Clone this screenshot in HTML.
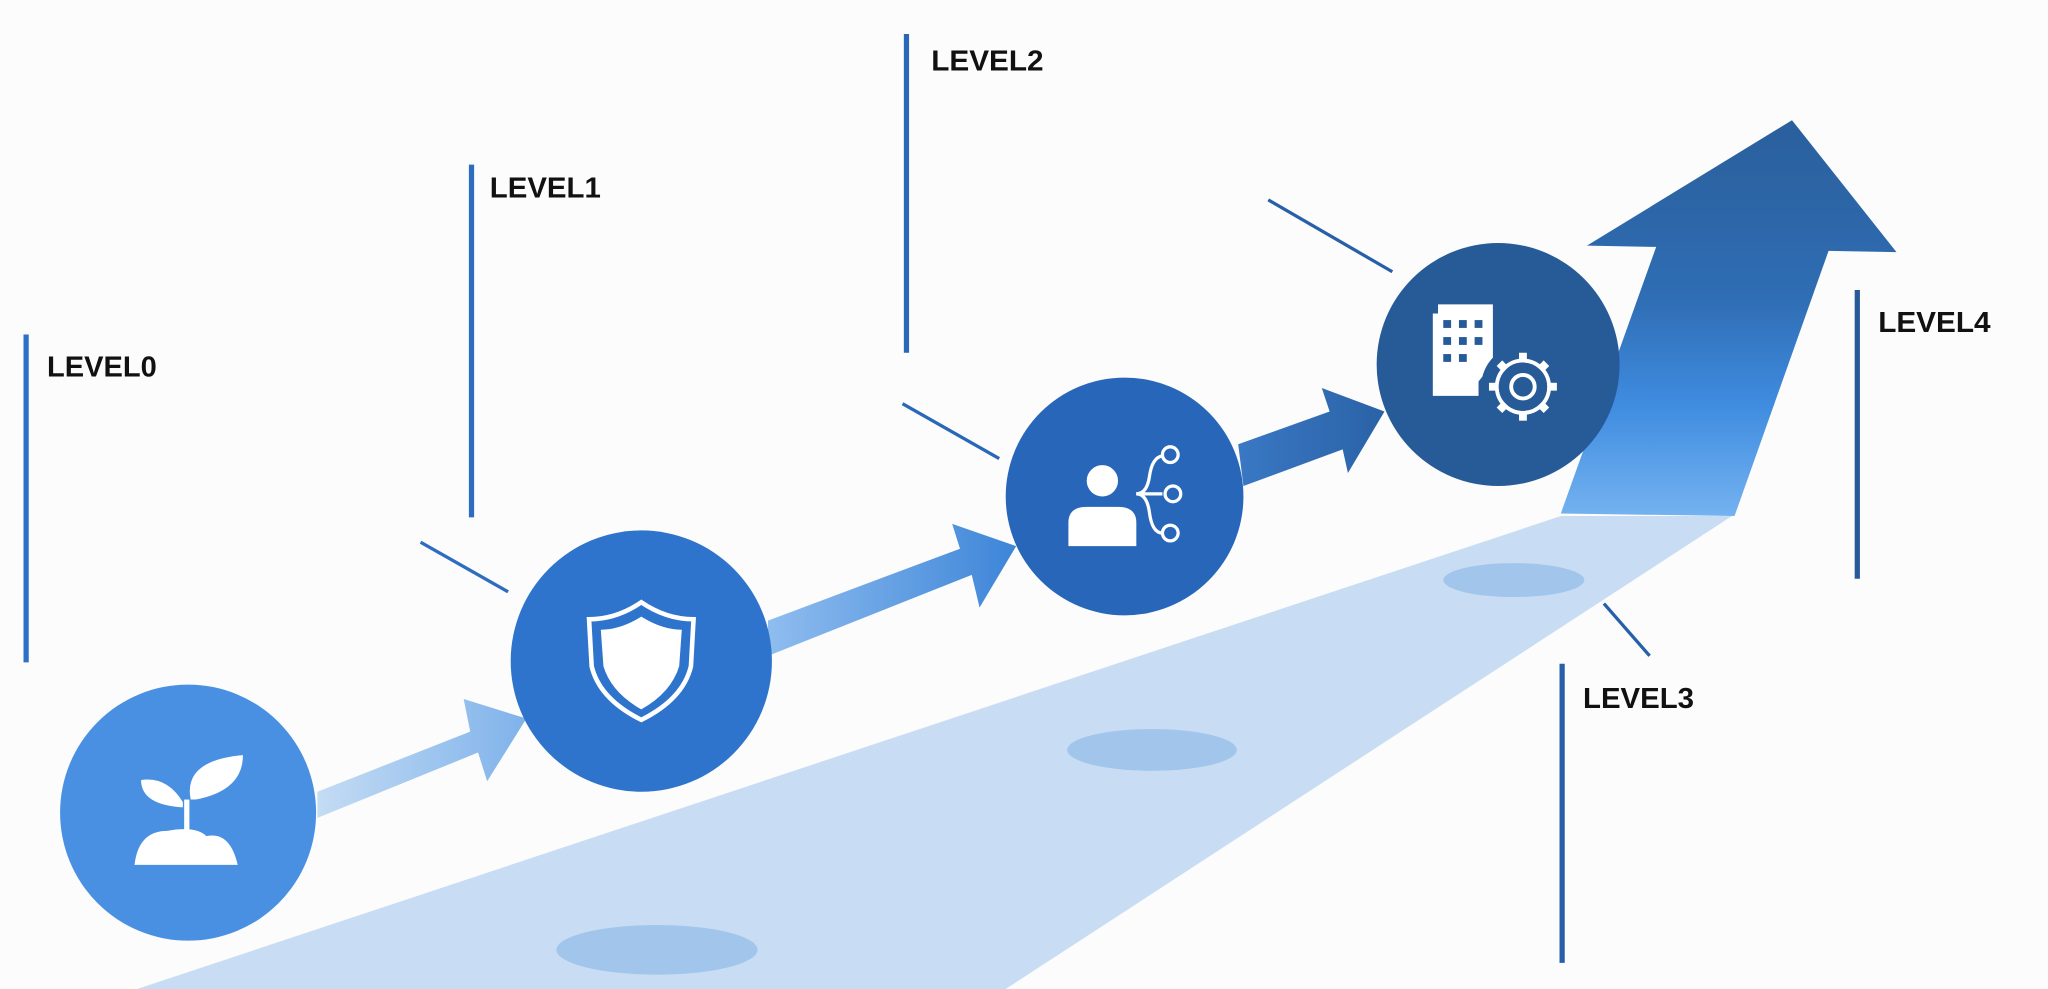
<!DOCTYPE html>
<html><head><meta charset="utf-8"><style>
html,body{margin:0;padding:0;background:#fbfcfb;}
svg{display:block;}
text{font-family:"Liberation Sans",sans-serif;font-weight:bold;font-size:22px;fill:#111;}
</style></head><body>
<svg width="2048" height="989" viewBox="0 0 1568 757" preserveAspectRatio="none" xmlns="http://www.w3.org/2000/svg">
<defs>
<linearGradient id="big" x1="0" y1="0" x2="0" y2="1">
<stop offset="0" stop-color="#2a5f9c"/><stop offset="0.45" stop-color="#2f6db4"/><stop offset="0.72" stop-color="#3f8ce0"/><stop offset="1" stop-color="#74b2f0"/></linearGradient>
<linearGradient id="a0" x1="0" y1="0" x2="1" y2="0"><stop offset="0" stop-color="#c4dcf4"/><stop offset="1" stop-color="#7fb2ea"/></linearGradient>
<linearGradient id="a1" x1="0" y1="0" x2="1" y2="0"><stop offset="0" stop-color="#8fbdef"/><stop offset="1" stop-color="#3d85d8"/></linearGradient>
<linearGradient id="a2" x1="0" y1="0" x2="1" y2="0"><stop offset="0" stop-color="#3a78c4"/><stop offset="1" stop-color="#2a62a6"/></linearGradient>
</defs>
<rect width="1568" height="757" fill="#fbfcfb"/>
<!-- path band -->
<polygon points="105,757 1195,395 1326,395 770,757" fill="#c8ddf3"/>
<ellipse cx="503" cy="727" rx="77" ry="19" fill="#a2c6eb"/>
<ellipse cx="882" cy="574" rx="65" ry="16" fill="#a2c6eb"/>
<ellipse cx="1159" cy="444" rx="54" ry="13" fill="#a2c6eb"/>
<!-- big arrow -->
<polygon points="1195,393 1328,395 1400,192 1452,193 1372,92 1215,188 1268,189" fill="url(#big)"/>
<!-- small arrows -->
<polygon points="243,606 360,560 355,535 403,550 373,598 366,576 243,626" fill="url(#a0)"/>
<polygon points="588,475 735,420 729,401 778,418 750,465 744,440 588,502" fill="url(#a1)"/>
<polygon points="948,340 1018,315 1012,297 1060,315 1032,362 1028,344 952,372" fill="url(#a2)"/>
<!-- vertical lines -->
<g stroke-width="4">
<line x1="20" y1="256" x2="20" y2="507" stroke="#2d70c6"/>
<line x1="361" y1="126" x2="361" y2="396" stroke="#2d6cc0"/>
<line x1="694" y1="26" x2="694" y2="270" stroke="#2a67b8"/>
<line x1="1196" y1="508" x2="1196" y2="737" stroke="#275fa8"/>
<line x1="1422" y1="222" x2="1422" y2="443" stroke="#265a98"/>
</g>
<g stroke-width="2.5">
<line x1="322" y1="415" x2="389" y2="453" stroke="#2d6cc0"/>
<line x1="691" y1="309" x2="765" y2="351" stroke="#2a67b8"/>
<line x1="971" y1="153" x2="1066" y2="208" stroke="#275fa8"/>
<line x1="1228" y1="462" x2="1263" y2="502" stroke="#275fa8"/>
</g>
<!-- circles -->
<circle cx="144" cy="622" r="98" fill="#4a90e2"/>
<circle cx="491" cy="506" r="100" fill="#2e74cc"/>
<circle cx="861" cy="380" r="91" fill="#2766b9"/>
<circle cx="1147" cy="279" r="93" fill="#275b98"/>
<!-- sprout -->
<g fill="#fff">
<path d="M103,662 Q106,636 128,636 Q150,632 158,640 Q176,636 182,662 Z"/>
<rect x="141" y="612" width="4" height="26"/>
<path d="M146,612 Q140,582 186,578 Q186,605 150,612 Z"/>
<path d="M140,618 Q108,616 108,597 Q128,594 140,614 Z"/>
</g>
<!-- shield -->
<g fill="none" stroke="#fff">
<path d="M491,461 Q510,474 531,474 L529,510 Q523,535 491,551 Q459,535 453,510 L451,474 Q472,474 491,461 Z" stroke-width="3.5"/>
<path d="M491,472 Q507,482 522,482 L520,510 Q514,530 491,543 Q468,530 462,510 L460,482 Q475,482 491,472 Z" fill="#fff" stroke-width="0"/>
</g>
<!-- person -->
<g>
<circle cx="844" cy="368" r="12" fill="#fff"/>
<path d="M818,418 L818,400 Q818,388 832,388 L856,388 Q870,388 870,400 L870,418 Z" fill="#fff"/>
<g stroke="#fff" stroke-width="2.5" fill="none">
<path d="M870,378 Q878,378 880,365 Q882,350 890,349"/>
<line x1="870" y1="378" x2="890" y2="378"/>
<path d="M870,378 Q878,378 880,392 Q882,408 890,408"/>
<circle cx="896" cy="348" r="6"/><circle cx="898" cy="378" r="6"/><circle cx="896" cy="408" r="6"/>
</g>
</g>
<!-- building + gear -->
<g>
<path d="M1097,303 L1097,240 L1101,240 L1101,233 L1143,233 L1143,278 L1132,292 L1132,303 Z" fill="#fff"/>
<g fill="#275b98">
<rect x="1105" y="245" width="6" height="6"/><rect x="1117" y="245" width="6" height="6"/><rect x="1129" y="245" width="6" height="6"/>
<rect x="1105" y="258" width="6" height="6"/><rect x="1117" y="258" width="6" height="6"/><rect x="1129" y="258" width="6" height="6"/>
<rect x="1105" y="271" width="6" height="6"/><rect x="1117" y="271" width="6" height="6"/>
</g>
<circle cx="1166" cy="296" r="32" fill="#275b98"/>
<g stroke="#fff" stroke-width="3" fill="none">
<circle cx="1166" cy="296" r="20"/>
<circle cx="1166" cy="296" r="9"/>
<g stroke-width="6">
<line x1="1166" y1="270" x2="1166" y2="277"/><line x1="1166" y1="315" x2="1166" y2="322"/>
<line x1="1140" y1="296" x2="1147" y2="296"/><line x1="1185" y1="296" x2="1192" y2="296"/>
<line x1="1148" y1="278" x2="1153" y2="283"/><line x1="1179" y1="309" x2="1184" y2="314"/>
<line x1="1184" y1="278" x2="1179" y2="283"/><line x1="1153" y1="309" x2="1148" y2="314"/>
</g>
</g>
<circle cx="1166" cy="296" r="17" fill="none" stroke="#275b98" stroke-width="3"/>
</g>
<!-- labels -->
<text x="36" y="288" textLength="84" lengthAdjust="spacingAndGlyphs">LEVEL0</text>
<text x="375" y="151" textLength="85" lengthAdjust="spacingAndGlyphs">LEVEL1</text>
<text x="713" y="54" textLength="86" lengthAdjust="spacingAndGlyphs">LEVEL2</text>
<text x="1212" y="542" textLength="85" lengthAdjust="spacingAndGlyphs">LEVEL3</text>
<text x="1438" y="254" textLength="86" lengthAdjust="spacingAndGlyphs">LEVEL4</text>
</svg>
</body></html>
